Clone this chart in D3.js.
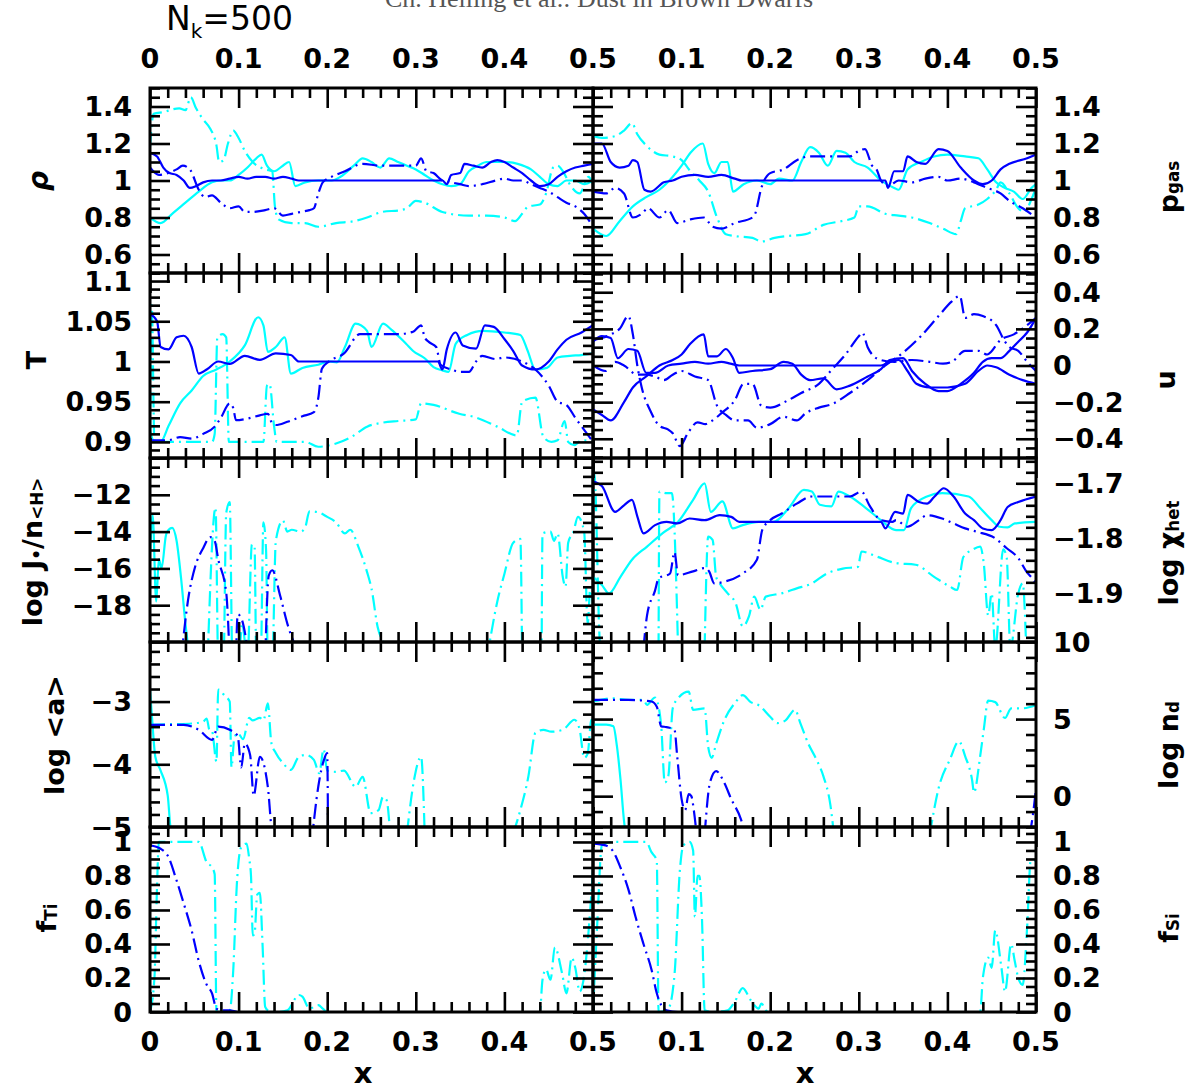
<!DOCTYPE html>
<html><head><meta charset="utf-8">
<script src="https://cdn.jsdelivr.net/npm/d3@7"></script>
<style>
body{margin:0;background:#fff}
svg{display:block}
text{font-family:'DejaVu Sans',sans-serif;font-weight:bold;fill:#000}
</style></head>
<body><svg id="chart" width="1193" height="1092"></svg>
<script>
// ---------------- DATA ----------------
const xMajorTicks = [0, 0.1, 0.2, 0.3, 0.4, 0.5];
const xTickLabels = ["0", "0.1", "0.2", "0.3", "0.4", "0.5"];

// rho (left, row 1)
const rhoBlueSolid = [[0,1.15],[0.008,1.13],[0.015,1.07],[0.022,1.04],[0.03,1.03],[0.038,1.0],[0.045,0.96],[0.052,0.97],[0.06,0.99],[0.07,1.0],[0.08,1.0],[0.09,1.01],[0.1,1.02],[0.11,1.01],[0.12,1.02],[0.13,1.02],[0.14,1.01],[0.15,1.02],[0.16,1.01],[0.168,1.0],[0.33,1.0],[0.335,0.98],[0.34,1.03],[0.35,1.04],[0.355,1.09],[0.365,1.08],[0.375,1.07],[0.385,1.1],[0.392,1.11],[0.4,1.1],[0.41,1.07],[0.42,1.04],[0.43,1.0],[0.44,0.97],[0.45,0.98],[0.46,1.02],[0.47,1.05],[0.48,1.07],[0.49,1.08],[0.5,1.09]];
const rhoBlueDash = [[0,1.07],[0.01,1.03],[0.02,1.04],[0.03,1.06],[0.037,1.08],[0.045,1.06],[0.055,0.95],[0.062,0.91],[0.07,0.92],[0.08,0.88],[0.09,0.85],[0.1,0.86],[0.107,0.83],[0.115,0.83],[0.13,0.84],[0.14,0.85],[0.15,0.81],[0.16,0.82],[0.17,0.83],[0.18,0.84],[0.185,0.85],[0.19,0.93],[0.195,0.99],[0.205,1.02],[0.22,1.05],[0.24,1.09],[0.26,1.08],[0.28,1.08],[0.3,1.08],[0.306,1.12],[0.312,1.05],[0.32,1.04],[0.33,1.0],[0.34,0.99],[0.35,0.98],[0.36,0.97],[0.375,0.98],[0.39,1.0],[0.4,1.01],[0.41,1.0],[0.42,1.0],[0.43,0.98],[0.44,0.96],[0.45,0.94],[0.46,0.91],[0.47,0.88],[0.48,0.86],[0.49,0.82],[0.5,0.75]];
const rhoCyanSolid = [[0,0.8],[0.012,0.77],[0.025,0.82],[0.04,0.88],[0.055,0.94],[0.07,0.99],[0.08,1.0],[0.09,1.0],[0.1,1.03],[0.11,1.07],[0.12,1.12],[0.126,1.14],[0.132,1.08],[0.14,1.05],[0.15,1.08],[0.157,1.1],[0.164,0.97],[0.175,0.99],[0.19,1.0],[0.205,1.0],[0.215,1.02],[0.23,1.08],[0.24,1.12],[0.25,1.1],[0.26,1.07],[0.27,1.12],[0.28,1.1],[0.29,1.08],[0.3,1.06],[0.31,1.03],[0.32,1.0],[0.33,0.98],[0.34,0.97],[0.35,0.98],[0.36,1.05],[0.37,1.08],[0.38,1.1],[0.4,1.1],[0.415,1.09],[0.43,1.06],[0.44,1.02],[0.45,0.98],[0.46,0.97],[0.47,1.0],[0.48,1.0],[0.49,0.98],[0.5,1.0]];
const rhoCyanDash = [[0,1.18],[0.004,1.36],[0.015,1.37],[0.033,1.39],[0.04,1.38],[0.046,1.45],[0.052,1.39],[0.06,1.33],[0.068,1.28],[0.075,1.19],[0.078,1.1],[0.083,1.11],[0.088,1.2],[0.094,1.27],[0.1,1.23],[0.107,1.16],[0.116,1.1],[0.13,1.06],[0.138,1.05],[0.141,0.86],[0.145,0.79],[0.16,0.77],[0.175,0.77],[0.19,0.75],[0.21,0.77],[0.23,0.78],[0.245,0.8],[0.262,0.83],[0.283,0.84],[0.29,0.85],[0.3,0.89],[0.31,0.88],[0.33,0.83],[0.36,0.81],[0.38,0.81],[0.4,0.8],[0.412,0.78],[0.42,0.82],[0.427,0.86],[0.44,0.87],[0.447,0.93],[0.455,1.07],[0.46,1.08],[0.466,1.05],[0.475,0.97],[0.485,0.93],[0.495,1.02],[0.5,0.98]];

// p_gas (right, row 1)
const pgasBlueSolid = [[0,1.2],[0.01,1.2],[0.02,1.1],[0.03,1.07],[0.04,1.08],[0.045,1.11],[0.05,1.1],[0.058,0.95],[0.065,0.94],[0.08,0.99],[0.09,1.0],[0.1,1.02],[0.115,1.03],[0.13,1.02],[0.145,1.03],[0.16,1.01],[0.168,1.0],[0.33,1.0],[0.333,0.96],[0.34,1.05],[0.35,1.05],[0.355,1.13],[0.365,1.1],[0.375,1.09],[0.39,1.17],[0.4,1.16],[0.415,1.07],[0.43,1.0],[0.44,0.98],[0.45,1.0],[0.46,1.06],[0.47,1.09],[0.49,1.12],[0.5,1.14]];
const pgasBlueDash = [[0,0.94],[0.015,0.93],[0.025,0.96],[0.035,0.93],[0.045,0.8],[0.055,0.82],[0.062,0.85],[0.075,0.8],[0.085,0.84],[0.095,0.77],[0.11,0.79],[0.125,0.8],[0.135,0.75],[0.145,0.74],[0.16,0.77],[0.18,0.8],[0.183,0.82],[0.19,0.96],[0.2,1.04],[0.215,1.06],[0.23,1.11],[0.245,1.13],[0.27,1.13],[0.29,1.13],[0.3,1.16],[0.307,1.17],[0.315,1.08],[0.32,1.06],[0.325,1.0],[0.333,0.97],[0.345,1.0],[0.36,0.99],[0.375,1.01],[0.39,1.02],[0.4,1.0],[0.415,1.01],[0.43,0.99],[0.445,0.96],[0.46,0.93],[0.47,0.89],[0.485,0.85],[0.5,0.8]];
const pgasCyanSolid = [[0,0.74],[0.015,0.7],[0.03,0.78],[0.045,0.86],[0.06,0.91],[0.075,0.95],[0.09,1.02],[0.1,1.08],[0.11,1.15],[0.124,1.2],[0.13,1.09],[0.137,1.04],[0.145,1.1],[0.152,1.1],[0.158,0.94],[0.17,0.98],[0.185,1.0],[0.2,0.98],[0.21,1.01],[0.225,1.0],[0.235,1.1],[0.245,1.18],[0.255,1.15],[0.265,1.08],[0.275,1.16],[0.285,1.15],[0.295,1.1],[0.31,1.07],[0.325,1.0],[0.34,0.96],[0.345,0.95],[0.355,1.06],[0.37,1.1],[0.385,1.13],[0.4,1.14],[0.42,1.13],[0.435,1.12],[0.445,1.06],[0.455,0.99],[0.465,0.96],[0.475,0.94],[0.485,0.9],[0.495,0.96],[0.5,0.98]];
const pgasCyanDash = [[0,1.24],[0.01,1.23],[0.025,1.24],[0.035,1.27],[0.044,1.31],[0.05,1.25],[0.06,1.19],[0.075,1.14],[0.09,1.13],[0.1,1.11],[0.11,1.05],[0.12,1.0],[0.13,0.94],[0.14,0.8],[0.15,0.71],[0.16,0.7],[0.18,0.69],[0.19,0.67],[0.205,0.69],[0.22,0.7],[0.24,0.71],[0.26,0.76],[0.28,0.78],[0.295,0.8],[0.3,0.86],[0.31,0.86],[0.33,0.82],[0.345,0.81],[0.36,0.8],[0.38,0.77],[0.395,0.74],[0.41,0.71],[0.415,0.78],[0.42,0.85],[0.435,0.87],[0.445,0.9],[0.455,0.95],[0.46,0.99],[0.47,0.93],[0.48,0.85],[0.487,0.83],[0.495,0.9],[0.5,0.96]];

// T (left, row 2)
const tBlueSolid = [[0,1.059],[0.008,1.05],[0.012,1.018],[0.021,1.015],[0.03,1.03],[0.038,1.032],[0.047,1.018],[0.055,0.985],[0.064,0.99],[0.077,1.0],[0.09,0.997],[0.107,1.007],[0.124,1.002],[0.142,1.01],[0.159,1.008],[0.168,1.0],[0.325,1.0],[0.33,0.99],[0.335,1.015],[0.345,1.036],[0.353,1.02],[0.368,1.016],[0.378,1.045],[0.388,1.043],[0.4,1.028],[0.41,1.013],[0.42,0.995],[0.435,0.99],[0.45,1.0],[0.46,1.015],[0.47,1.027],[0.487,1.036],[0.5,1.045]];
const tBlueDash = [[0,0.902],[0.02,0.902],[0.034,0.906],[0.047,0.904],[0.06,0.91],[0.073,0.919],[0.08,0.93],[0.09,0.948],[0.094,0.942],[0.097,0.927],[0.11,0.929],[0.124,0.933],[0.133,0.935],[0.137,0.925],[0.142,0.921],[0.155,0.925],[0.172,0.932],[0.185,0.937],[0.19,0.955],[0.194,0.991],[0.202,1.0],[0.219,1.01],[0.237,1.034],[0.263,1.034],[0.28,1.034],[0.297,1.037],[0.306,1.045],[0.31,1.03],[0.315,1.024],[0.323,1.018],[0.328,0.996],[0.34,0.99],[0.35,0.987],[0.36,0.987],[0.368,1.0],[0.375,1.007],[0.39,1.003],[0.4,1.005],[0.42,1.0],[0.435,0.99],[0.45,0.97],[0.46,0.95],[0.47,0.946],[0.48,0.93],[0.49,0.915],[0.5,0.9]];
const tCyanSolid = [[0,0.914],[0.005,0.9],[0.012,0.9],[0.021,0.92],[0.034,0.948],[0.047,0.964],[0.06,0.982],[0.075,0.99],[0.09,1.0],[0.107,1.02],[0.122,1.055],[0.128,1.045],[0.133,1.012],[0.142,1.018],[0.152,1.03],[0.159,0.985],[0.172,0.992],[0.19,0.996],[0.202,1.0],[0.211,0.999],[0.22,1.018],[0.232,1.047],[0.245,1.038],[0.25,1.018],[0.263,1.047],[0.272,1.04],[0.289,1.022],[0.297,1.013],[0.31,1.004],[0.32,0.993],[0.33,0.989],[0.337,0.987],[0.345,1.022],[0.358,1.033],[0.376,1.038],[0.4,1.036],[0.418,1.033],[0.426,1.014],[0.435,0.99],[0.448,0.992],[0.46,1.005],[0.474,1.007],[0.487,1.008],[0.5,1.01]];
const tCyanDash = [[0,0.91],[0.002,1.07],[0.005,0.9],[0.012,0.9],[0.03,0.9],[0.05,0.9],[0.07,0.9],[0.073,0.91],[0.076,1.03],[0.082,1.034],[0.086,1.03],[0.089,0.9],[0.1,0.9],[0.115,0.9],[0.128,0.9],[0.132,0.97],[0.135,0.972],[0.14,0.92],[0.143,0.9],[0.155,0.9],[0.165,0.9],[0.175,0.9],[0.19,0.894],[0.21,0.898],[0.227,0.906],[0.245,0.919],[0.263,0.924],[0.28,0.926],[0.3,0.928],[0.306,0.948],[0.32,0.946],[0.349,0.935],[0.366,0.931],[0.392,0.919],[0.414,0.908],[0.42,0.95],[0.435,0.955],[0.444,0.906],[0.453,0.9],[0.46,0.902],[0.468,0.926],[0.472,0.9],[0.479,0.896],[0.487,0.902],[0.5,0.9]];

// u (right, row 2)
const uBlueSolidA = [[0,0.13],[0.01,0.16],[0.02,0.15],[0.028,0.04],[0.04,0.09],[0.05,0.08],[0.06,-0.04],[0.07,-0.04],[0.085,0.0],[0.1,0.01],[0.115,0.02],[0.13,0.01],[0.145,0.02],[0.155,0.01],[0.165,0.0],[0.325,0.0],[0.335,0.02],[0.345,0.03],[0.355,-0.03],[0.365,-0.1],[0.38,-0.12],[0.4,-0.12],[0.42,-0.1],[0.435,-0.03],[0.445,0.0],[0.455,-0.01],[0.47,-0.05],[0.485,-0.08],[0.5,-0.1]];
const uBlueSolidB = [[0,-0.24],[0.01,-0.27],[0.02,-0.3],[0.035,-0.2],[0.045,-0.12],[0.06,-0.06],[0.075,0.0],[0.09,0.03],[0.1,0.06],[0.11,0.12],[0.125,0.17],[0.13,0.05],[0.14,0.05],[0.15,0.09],[0.158,0.04],[0.165,-0.04],[0.18,-0.03],[0.2,-0.02],[0.215,0.02],[0.225,0.01],[0.235,-0.05],[0.245,-0.08],[0.26,-0.07],[0.275,-0.13],[0.29,-0.11],[0.31,-0.06],[0.325,-0.02],[0.335,0.03],[0.35,0.04],[0.36,-0.03],[0.375,-0.1],[0.39,-0.14],[0.4,-0.14],[0.415,-0.1],[0.43,-0.04],[0.44,0.02],[0.45,0.04],[0.46,0.04],[0.47,0.08],[0.48,0.13],[0.49,0.18],[0.5,0.26]];
const uBlueDashA = [[0,0.14],[0.01,0.15],[0.02,0.17],[0.03,0.2],[0.04,0.27],[0.045,0.17],[0.05,0.0],[0.055,-0.12],[0.065,-0.25],[0.075,-0.33],[0.085,-0.35],[0.09,-0.37],[0.098,-0.44],[0.107,-0.37],[0.118,-0.31],[0.127,-0.32],[0.135,-0.3],[0.145,-0.26],[0.16,-0.19],[0.17,-0.1],[0.18,-0.1],[0.19,-0.22],[0.2,-0.23],[0.22,-0.19],[0.235,-0.15],[0.255,-0.1],[0.27,-0.02],[0.285,0.06],[0.3,0.16],[0.304,0.18],[0.31,0.1],[0.315,0.06],[0.325,0.03],[0.34,0.02],[0.36,0.03],[0.38,0.02],[0.395,0.01],[0.405,0.02],[0.42,0.08],[0.435,0.08],[0.445,0.06],[0.46,0.14],[0.475,0.17],[0.49,0.22],[0.5,0.26]];
const uBlueDashB = [[0,0.0],[0.014,-0.03],[0.025,0.02],[0.035,0.0],[0.05,-0.05],[0.06,-0.05],[0.07,-0.06],[0.08,-0.08],[0.09,-0.05],[0.1,-0.03],[0.115,-0.06],[0.13,-0.08],[0.14,-0.22],[0.15,-0.27],[0.16,-0.3],[0.175,-0.3],[0.185,-0.34],[0.2,-0.32],[0.215,-0.28],[0.23,-0.3],[0.24,-0.26],[0.255,-0.23],[0.27,-0.21],[0.29,-0.15],[0.31,-0.08],[0.33,0.0],[0.35,0.07],[0.37,0.16],[0.39,0.27],[0.405,0.35],[0.414,0.38],[0.42,0.26],[0.43,0.28],[0.44,0.27],[0.455,0.22],[0.465,0.13],[0.47,0.1],[0.48,0.08],[0.49,0.02],[0.5,-0.03]];

// log J*/n<H> (left, row 3)
const jCyanSolid = [[0,-15.3],[0.003,-13.1],[0.007,-17.8],[0.01,-15.5],[0.013,-16.0],[0.018,-14.2],[0.021,-13.9],[0.025,-13.8],[0.03,-14.5],[0.035,-16.5],[0.04,-19.0],[0.045,-21]];
const jCyanDash = [[0.065,-21],[0.074,-12.7],[0.077,-21],[0.083,-21],[0.086,-13.0],[0.09,-12.4],[0.093,-21],[0.1,-21],[0.104,-19],[0.11,-21],[0.115,-14.7],[0.118,-14.8],[0.12,-21],[0.125,-21],[0.128,-13.5],[0.131,-15],[0.133,-21],[0.138,-21],[0.142,-14.5],[0.15,-13.4],[0.155,-14.0],[0.16,-13.9],[0.17,-14.0],[0.175,-13.8],[0.18,-12.9],[0.19,-12.95],[0.2,-13.2],[0.21,-13.5],[0.22,-14.1],[0.226,-13.9],[0.235,-14.8],[0.245,-16.2],[0.25,-17.1],[0.257,-19.2],[0.265,-20.2],[0.27,-21],null,[0.38,-21],[0.392,-17.8],[0.4,-16.3],[0.41,-14.6],[0.418,-14.4],[0.42,-21],null,[0.442,-21],[0.443,-14.1],[0.452,-14.0],[0.456,-14.5],[0.46,-14.1],[0.466,-16.5],[0.469,-17.0],[0.472,-14.6],[0.478,-14.0],[0.483,-13.2],[0.49,-14.0],[0.494,-19],[0.497,-17],[0.5,-18]];
const jBlueDash = [[0.035,-21],[0.043,-17.7],[0.051,-15.9],[0.06,-14.9],[0.068,-14.3],[0.073,-14.5],[0.077,-15.5],[0.086,-17.3],[0.09,-21],null,[0.097,-21],[0.099,-18.5],[0.103,-18.7],[0.112,-21],null,[0.13,-21],[0.134,-16.4],[0.138,-16.1],[0.147,-17.5],[0.155,-19],[0.172,-21]];

// log chi_het (right, row 3)
const chiBlueSolid = [[0,-1.697],[0.01,-1.705],[0.025,-1.752],[0.035,-1.74],[0.044,-1.73],[0.05,-1.76],[0.057,-1.791],[0.07,-1.776],[0.083,-1.77],[0.095,-1.773],[0.109,-1.764],[0.126,-1.767],[0.143,-1.758],[0.156,-1.761],[0.165,-1.77],[0.325,-1.77],[0.33,-1.782],[0.341,-1.752],[0.35,-1.755],[0.355,-1.721],[0.368,-1.734],[0.377,-1.737],[0.385,-1.725],[0.396,-1.709],[0.407,-1.724],[0.42,-1.755],[0.43,-1.767],[0.44,-1.782],[0.45,-1.785],[0.46,-1.767],[0.468,-1.743],[0.48,-1.734],[0.5,-1.724]];
const chiBlueDash = [[0.057,-2.0],[0.061,-1.94],[0.07,-1.895],[0.074,-1.873],[0.087,-1.864],[0.092,-1.825],[0.096,-1.867],[0.113,-1.86],[0.126,-1.854],[0.131,-1.86],[0.137,-1.882],[0.148,-1.879],[0.169,-1.864],[0.185,-1.839],[0.191,-1.785],[0.2,-1.767],[0.213,-1.755],[0.23,-1.737],[0.247,-1.724],[0.264,-1.724],[0.29,-1.724],[0.303,-1.715],[0.312,-1.74],[0.325,-1.767],[0.338,-1.77],[0.342,-1.767],[0.355,-1.779],[0.368,-1.767],[0.377,-1.758],[0.394,-1.764],[0.407,-1.773],[0.42,-1.782],[0.433,-1.788],[0.454,-1.8],[0.467,-1.818],[0.48,-1.836],[0.489,-1.86],[0.496,-1.873],[0.5,-1.882]];
const chiCyanSolid = [[0,-1.87],[0.01,-1.885],[0.018,-1.9],[0.031,-1.87],[0.044,-1.839],[0.061,-1.815],[0.079,-1.79],[0.096,-1.77],[0.113,-1.73],[0.126,-1.7],[0.133,-1.752],[0.146,-1.733],[0.158,-1.782],[0.169,-1.776],[0.187,-1.77],[0.204,-1.77],[0.221,-1.745],[0.238,-1.712],[0.247,-1.715],[0.256,-1.739],[0.269,-1.742],[0.277,-1.715],[0.29,-1.724],[0.308,-1.745],[0.325,-1.767],[0.342,-1.785],[0.351,-1.785],[0.359,-1.745],[0.377,-1.724],[0.394,-1.718],[0.424,-1.724],[0.437,-1.745],[0.45,-1.767],[0.459,-1.779],[0.468,-1.78],[0.476,-1.773],[0.5,-1.77]];
const chiCyanDash = [[0,-1.675],[0.002,-1.69],[0.008,-1.99],[0.012,-2.0],null,[0.074,-2.0],[0.075,-1.715],[0.083,-1.718],[0.089,-1.718],[0.096,-2.0],null,[0.126,-2.0],[0.13,-1.797],[0.135,-1.803],[0.139,-1.87],[0.143,-1.882],[0.152,-1.9],[0.161,-1.918],[0.169,-1.96],[0.176,-1.942],[0.182,-1.906],[0.189,-1.93],[0.195,-1.906],[0.213,-1.9],[0.23,-1.891],[0.247,-1.882],[0.264,-1.864],[0.282,-1.855],[0.299,-1.852],[0.303,-1.824],[0.32,-1.833],[0.342,-1.845],[0.364,-1.848],[0.385,-1.87],[0.403,-1.888],[0.411,-1.894],[0.418,-1.834],[0.428,-1.821],[0.437,-1.815],[0.441,-1.845],[0.446,-1.94],[0.45,-1.9],[0.454,-2.0],[0.463,-1.82],[0.467,-1.836],[0.471,-2.0],[0.48,-1.9],[0.485,-1.882],[0.489,-2.0]];

// log <a> (left, row 4)
const aCyanSolid = [[0,-2.81],[0.002,-3.2],[0.006,-3.88],[0.012,-4.1],[0.02,-4.5],[0.023,-5.0],[0.025,-5.2]];
const aCyanDash = [[0,-3.37],[0.025,-3.36],[0.047,-3.35],[0.06,-3.32],[0.064,-3.27],[0.067,-3.45],[0.07,-3.47],[0.075,-3.96],[0.077,-2.81],[0.085,-2.92],[0.09,-3.0],[0.092,-4.05],[0.095,-3.6],[0.099,-3.5],[0.105,-3.6],[0.112,-3.26],[0.116,-3.3],[0.124,-3.26],[0.128,-3.3],[0.133,-3.03],[0.137,-3.66],[0.142,-3.82],[0.15,-3.98],[0.159,-4.09],[0.168,-3.88],[0.176,-3.85],[0.185,-3.93],[0.191,-4.14],[0.196,-3.76],[0.2,-4.1],[0.21,-4.12],[0.219,-4.1],[0.232,-4.36],[0.24,-4.2],[0.249,-4.78],[0.258,-4.73],[0.263,-4.52],[0.267,-4.57],[0.271,-5.1],null,[0.29,-5.1],[0.298,-4.25],[0.306,-3.88],[0.31,-5.1],null,[0.41,-5.1],[0.418,-4.73],[0.427,-4.2],[0.435,-3.5],[0.444,-3.45],[0.453,-3.48],[0.466,-3.45],[0.479,-3.29],[0.485,-3.45],[0.49,-3.9],[0.494,-3.83],[0.498,-3.3],[0.5,-3.28]];
const aBlueDash = [[0,-3.37],[0.038,-3.37],[0.055,-3.45],[0.07,-3.61],[0.077,-3.4],[0.09,-3.45],[0.099,-3.55],[0.103,-4.05],[0.107,-3.67],[0.113,-3.85],[0.117,-4.5],[0.124,-3.88],[0.133,-4.36],[0.137,-5.0],[0.142,-5.3],null,[0.182,-5.3],[0.19,-4.35],[0.197,-3.9],[0.2,-3.82],[0.201,-5.2]];

// log n_d (right, row 4)
const ndCyanSolid = [[0,4.64],[0.015,4.64],[0.023,4.53],[0.027,3.24],[0.031,1.1],[0.035,-1.6],[0.037,-2.5]];
const ndCyanDash = [[0,6.14],[0.005,6.2],[0.022,6.35],[0.04,6.24],[0.057,6.24],[0.061,5.92],[0.07,6.4],[0.074,5.83],[0.077,4.53],[0.081,0.88],[0.085,1.3],[0.09,5.7],[0.096,6.35],[0.108,6.78],[0.113,5.6],[0.126,5.7],[0.13,3.2],[0.134,2.49],[0.139,3.4],[0.148,4.9],[0.161,6.1],[0.169,6.56],[0.178,6.1],[0.187,5.9],[0.2,5.15],[0.208,4.74],[0.217,4.9],[0.228,5.6],[0.234,4.74],[0.243,3.4],[0.252,2.4],[0.26,1.3],[0.268,-0.6],[0.272,-2.5],null,[0.38,-2.5],[0.39,0.5],[0.403,2.4],[0.413,3.56],[0.42,2.6],[0.428,1.0],[0.43,0.24],[0.437,2.6],[0.441,4.3],[0.446,6.2],[0.454,6.1],[0.465,5.07],[0.472,5.7],[0.485,5.7],[0.5,5.9]];
const ndBlueDash = [[0,6.24],[0.04,6.24],[0.066,6.14],[0.072,5.8],[0.077,4.53],[0.083,4.48],[0.092,4.3],[0.095,2.6],[0.1,-0.19],[0.104,-0.9],[0.108,0.13],[0.111,0.0],[0.114,-1.0],[0.117,-2.5],null,[0.126,-2.5],[0.132,0.88],[0.139,1.63],[0.148,0.88],[0.156,-0.19],[0.167,-1.5],[0.172,-2.5],null,[0.493,-2.5],[0.497,-1.0],[0.5,0.5]];

// f_Ti (left, row 5)
const ftiBlueDash = [[0,0.98],[0.012,0.96],[0.021,0.91],[0.029,0.79],[0.038,0.64],[0.047,0.48],[0.055,0.3],[0.064,0.16],[0.07,0.11],[0.075,0.02],[0.081,0.01],[0.09,0.01],[0.099,0.0],[0.5,0.0]];
const ftiCyanDash = [[0,0.0],[0.005,0.2],[0.008,0.75],[0.01,1.0],[0.038,1.0],[0.055,1.0],[0.064,0.88],[0.07,0.85],[0.073,0.81],[0.075,0.0],[0.09,0.01],[0.094,0.25],[0.098,0.75],[0.103,0.97],[0.109,0.99],[0.112,0.9],[0.114,0.8],[0.116,0.45],[0.118,0.46],[0.121,0.69],[0.124,0.7],[0.127,0.4],[0.13,0.03],[0.133,0.01],[0.142,0.0],[0.155,0.01],[0.168,0.1],[0.172,0.09],[0.18,0.02],[0.19,0.04],[0.195,0.02],[0.2,0.0],[0.44,0.0],[0.443,0.19],[0.447,0.25],[0.452,0.19],[0.457,0.38],[0.465,0.23],[0.47,0.11],[0.476,0.32],[0.48,0.26],[0.485,0.12],[0.489,0.18],[0.496,0.54],[0.5,0.84]];

// f_Si (right, row 5)
const fsiBlueDash = [[0,0.99],[0.014,0.98],[0.022,0.95],[0.031,0.85],[0.04,0.72],[0.048,0.56],[0.057,0.4],[0.066,0.25],[0.072,0.11],[0.077,0.04],[0.083,0.01],[0.096,0.0],[0.5,0.0]];
const fsiCyanDash = [[0,0.0],[0.005,0.54],[0.01,0.98],[0.022,1.0],[0.06,1.0],[0.066,0.94],[0.072,0.89],[0.074,0.0],[0.085,0.02],[0.092,0.22],[0.098,0.83],[0.102,0.98],[0.109,1.0],[0.113,0.95],[0.115,0.56],[0.118,0.8],[0.12,0.8],[0.123,0.55],[0.126,0.01],[0.135,0.0],[0.152,0.01],[0.16,0.06],[0.169,0.14],[0.178,0.07],[0.187,0.02],[0.19,0.05],[0.195,0.01],[0.2,0.0],[0.437,0.0],[0.44,0.2],[0.446,0.32],[0.45,0.26],[0.454,0.48],[0.461,0.26],[0.465,0.12],[0.472,0.4],[0.476,0.3],[0.48,0.2],[0.485,0.16],[0.49,0.5],[0.494,0.89],[0.5,0.89]];

// y tick values and labels per panel
const rhoTicks = [0.6,0.8,1,1.2,1.4];        const rhoLabels = ["0.6","0.8","1","1.2","1.4"];
const tTicks = [0.9,0.95,1,1.05,1.1];        const tLabels = ["0.9","0.95","1","1.05","1.1"];
const uTicks = [-0.4,-0.2,0,0.2,0.4];        const uLabels = ["\u22120.4","\u22120.2","0","0.2","0.4"];
const jTicks = [-20,-18,-16,-14,-12,-10];    const jLabels = ["","\u221218","\u221216","\u221214","\u221212",""];
const chiTicks = [-1.9,-1.8,-1.7];           const chiLabels = ["\u22121.9","\u22121.8","\u22121.7"];
const aTicks = [-5,-4,-3,-2];                const aLabels = ["\u22125","\u22124","\u22123",""];
const ndTicks = [0,5,10];                    const ndLabels = ["0","5","10"];
const fTicks = [0,0.2,0.4,0.6,0.8,1];        const fLabels = ["0","0.2","0.4","0.6","0.8","1"];

// ---------------- LAYOUT ----------------
const colX = [[150,593],[593,1036]];
const rowY = [88,273,458,642,827,1012];
const BLUE = "#0000ff", CYAN = "#00ffff";
const DASHDOT = "15,5,2,5";

const panels = [
  {r:0,c:0,dom:[0.5,1.5],   ticks:rhoTicks,labels:rhoLabels,minor:0.05,
   series:[[rhoCyanDash,CYAN,1],[rhoCyanSolid,CYAN,0],[rhoBlueDash,BLUE,1],[rhoBlueSolid,BLUE,0]]},
  {r:0,c:1,dom:[0.5,1.5],   ticks:rhoTicks,labels:rhoLabels,minor:0.05,
   series:[[pgasCyanDash,CYAN,1],[pgasCyanSolid,CYAN,0],[pgasBlueDash,BLUE,1],[pgasBlueSolid,BLUE,0]]},
  {r:1,c:0,dom:[0.88,1.11], ticks:tTicks,labels:tLabels,minor:0.01,
   series:[[tCyanDash,CYAN,1],[tCyanSolid,CYAN,0],[tBlueDash,BLUE,1],[tBlueSolid,BLUE,0]]},
  {r:1,c:1,dom:[-0.505,0.505],ticks:uTicks,labels:uLabels,minor:0.05,
   series:[[uBlueDashA,BLUE,1],[uBlueDashB,BLUE,1],[uBlueSolidA,BLUE,0],[uBlueSolidB,BLUE,0]]},
  {r:2,c:0,dom:[-20,-10],   ticks:jTicks,labels:jLabels,minor:0.5,
   series:[[jCyanSolid,CYAN,0],[jCyanDash,CYAN,1],[jBlueDash,BLUE,1]]},
  {r:2,c:1,dom:[-1.9885,-1.654],ticks:chiTicks,labels:chiLabels,minor:0.02,
   series:[[chiCyanDash,CYAN,1],[chiCyanSolid,CYAN,0],[chiBlueDash,BLUE,1],[chiBlueSolid,BLUE,0]]},
  {r:3,c:0,dom:[-5,-2.05],  ticks:aTicks,labels:aLabels,minor:0.2,
   series:[[aCyanSolid,CYAN,0],[aCyanDash,CYAN,1],[aBlueDash,BLUE,1]]},
  {r:3,c:1,dom:[-2,10],     ticks:ndTicks,labels:ndLabels,minor:1,
   series:[[ndCyanSolid,CYAN,0],[ndCyanDash,CYAN,1],[ndBlueDash,BLUE,1]]},
  {r:4,c:0,dom:[0,1.088],   ticks:fTicks,labels:fLabels,minor:0.05,
   series:[[ftiCyanDash,CYAN,1],[ftiBlueDash,BLUE,1]]},
  {r:4,c:1,dom:[0,1.088],   ticks:fTicks,labels:fLabels,minor:0.05,
   series:[[fsiCyanDash,CYAN,1],[fsiBlueDash,BLUE,1]]}
];

function stepTicks(d0,d1,step){
  const lo=Math.min(d0,d1), hi=Math.max(d0,d1), out=[];
  for(let i=Math.ceil(lo/step-1e-6); i<=Math.floor(hi/step+1e-6); i++) out.push(+(i*step).toFixed(6));
  return out;
}

const svg = d3.select("#chart");
const defs = svg.append("defs");
const FS = 27;

panels.forEach((p,i)=>{
  const [x0,x1] = colX[p.c], y0 = rowY[p.r], y1 = rowY[p.r+1];
  const x = d3.scaleLinear().domain([0,0.5]).range([x0,x1]);
  const y = d3.scaleLinear().domain(p.dom).range([y1,y0]);
  defs.append("clipPath").attr("id","clip"+i).append("rect")
    .attr("x",x0).attr("y",y0).attr("width",x1-x0).attr("height",y1-y0);
  const g = svg.append("g");
  const lg = g.append("g").attr("clip-path",`url(#clip${i})`);
  const line = d3.line().defined(d=>d!==null).x(d=>x(d[0])).y(d=>y(d[1])).curve(d3.curveMonotoneX);
  p.series.forEach(([data,color,dash])=>{
    lg.append("path").attr("d",line(data)).attr("fill","none")
      .attr("stroke",color).attr("stroke-width",2.2)
      .attr("stroke-linejoin","round")
      .attr("stroke-dasharray",dash?DASHDOT:null);
  });
  // ticks via d3 axes (inward)
  const xMinor = stepTicks(0,0.5,0.02).filter(v=>!xMajorTicks.some(m=>Math.abs(m-v)<1e-6));
  const yMinor = stepTicks(p.dom[0],p.dom[1],p.minor).filter(v=>!p.ticks.some(m=>Math.abs(m-v)<1e-6));
  const yMajor = p.ticks.filter(v=>v>=Math.min(...p.dom)-1e-9 && v<=Math.max(...p.dom)+1e-9);
  const ax = (axis, vals, size, tr)=>{
    g.append("g").attr("transform",tr)
      .call(axis.tickValues(vals).tickSize(size).tickSizeOuter(0).tickFormat(""))
      .call(s=>s.select(".domain").remove())
      .call(s=>s.selectAll("line").attr("stroke","#000").attr("stroke-width",2.6));
  };
  ax(d3.axisTop(x), xMajorTicks, -20, `translate(0,${y0})`);
  ax(d3.axisTop(x), xMinor, -10, `translate(0,${y0})`);
  ax(d3.axisBottom(x), xMajorTicks, -20, `translate(0,${y1})`);
  ax(d3.axisBottom(x), xMinor, -10, `translate(0,${y1})`);
  ax(d3.axisLeft(y), yMajor, -20, `translate(${x0},0)`);
  ax(d3.axisLeft(y), yMinor, -10, `translate(${x0},0)`);
  ax(d3.axisRight(y), yMajor, -20, `translate(${x1},0)`);
  ax(d3.axisRight(y), yMinor, -10, `translate(${x1},0)`);
  // frame
  g.append("rect").attr("x",x0).attr("y",y0).attr("width",x1-x0).attr("height",y1-y0)
    .attr("fill","none").attr("stroke","#000").attr("stroke-width",3);
  // y tick labels
  p.ticks.forEach((v,k)=>{
    if(!p.labels[k]) return;
    g.append("text").attr("x", p.c===0 ? 132 : 1053).attr("y", y(v))
      .attr("text-anchor", p.c===0 ? "end" : "start")
      .attr("dominant-baseline","central").attr("font-size",FS).text(p.labels[k]);
  });
  // x tick labels on top of first row and bottom of last row
  if(p.r===0 || p.r===4){
    xMajorTicks.forEach((v,k)=>{
      if(p.c===1 && k===0) return;
      g.append("text").attr("x",x(v)).attr("y", p.r===0 ? 58 : 1041)
        .attr("text-anchor","middle").attr("dominant-baseline","central")
        .attr("font-size",FS).text(xTickLabels[k]);
    });
  }
});

// axis titles
function vTitle(cx, cy, parts, fs){
  const t = svg.append("text").attr("transform",`translate(${cx},${cy}) rotate(-90)`)
    .attr("text-anchor","middle").attr("dominant-baseline","central").attr("font-size",fs);
  parts.forEach(([s,sub])=>{
    const ts = t.append("tspan").text(s);
    if(sub==="sub") ts.attr("font-size",fs*0.62).attr("baseline-shift","-30%");
    if(sub==="it") ts.attr("font-style","italic");
  });
}
vTitle(38,181,[["\u03c1","it"]],28);
vTitle(36,360,[["T"]],27);
vTitle(32,552,[["log J"],["\u2022","sub"],["/n"],["<H>","sub"]],27);
vTitle(54,735,[["log <a>"]],27);
vTitle(46,918,[["f"],["Ti","sub"]],27);
vTitle(1168,187,[["p"],["gas","sub"]],27);
vTitle(1165,380,[["u"]],27);
vTitle(1168,553,[["log \u03c7"],["het","sub"]],27);
vTitle(1168,745,[["log n"],["d","sub"]],27);
vTitle(1168,928,[["f"],["Si","sub"]],27);

// x titles
[363,805].forEach(cx=>{
  svg.append("text").attr("x",cx).attr("y",1083).attr("text-anchor","middle")
    .attr("font-size",29).text("x");
});

// N_k = 500
const nk = svg.append("text").attr("x",166).attr("y",30).attr("font-size",33).style("font-weight","normal");
nk.append("tspan").text("N");
nk.append("tspan").text("k").attr("font-size",20).attr("dy",8);
nk.append("tspan").text("=500").attr("dy",-8);

// running header (cut at top edge, as in the source page)
svg.append("text").attr("x",599).attr("y",7).attr("text-anchor","middle")
  .attr("font-size",26).style("font-family","'Liberation Serif',serif").style("font-weight","normal")
  .style("fill","#555").text("Ch. Helling et al.: Dust in Brown Dwarfs");
</script></body></html>
